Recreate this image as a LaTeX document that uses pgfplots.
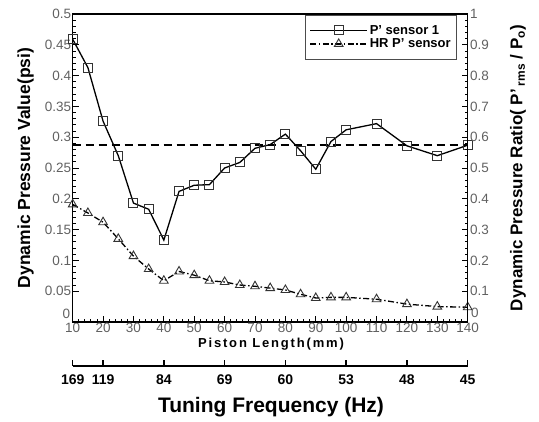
\documentclass[border=0pt]{standalone}
\usepackage{pgfplots}
\pgfplotsset{compat=1.18}
\usepackage{fontspec}
\setmainfont{Liberation Sans}
\begin{document}
\begin{tikzpicture}
\pgfplotsset{
  every axis/.append style={scale only axis, width=395pt, height=308pt, xmin=10, xmax=140,
    /pgf/number format/assume math mode=true,
    tick label style={font=\fontsize{13.5}{15}\selectfont, text=black!62},
    axis line style={line width=1.3pt}, every tick/.style={black, line width=0.9pt},
    major tick length=6pt, minor tick length=3pt},
}
\begin{axis}[
  ymin=0, ymax=0.5,
  xtick={10,20,...,140},
  ytick={0.05,0.1,0.15,0.2,0.25,0.3,0.35,0.4,0.45,0.5},
  yticklabels={0.05,0.1,0.15,0.2,0.25,0.3,0.35,0.4,0.45,0.5},
  extra y ticks={0}, extra y tick labels={0},
  extra y tick style={yticklabel style={yshift=8pt, xshift=-1pt}},
  minor x tick num=4, minor y tick num=4,
  xtick pos=bottom, ytick pos=left, tick align=inside,
  xticklabel style={yshift=2pt},
  yticklabel style={xshift=2pt},
  xlabel={\addfontfeature{LetterSpace=14}Piston Length(mm)},
  xlabel style={font=\bfseries\fontsize{13}{15}\selectfont, at={(axis description cs:0.502,-0.071)}, anchor=center},
  ylabel={Dynamic Pressure Value(psi)},
  ylabel style={font=\bfseries\fontsize{17.5}{19}\selectfont, at={(axis description cs:-0.119,0.5)}, anchor=center},
  legend style={at={(rel axis cs:0.973,0.997)}, anchor=north east, draw=black!70, line width=0.6pt,
    font=\bfseries\fontsize{13}{15}\selectfont, inner xsep=4pt, inner ysep=8pt, row sep=-1pt},
  legend cell align=left,
  legend image code/.code={\draw[mark repeat=2,mark phase=2] plot coordinates {(0cm,0cm)(1.0cm,0cm)(2.0cm,0cm)};},
]
\addplot[black, line width=1.5pt, dash pattern=on 8pt off 5pt, forget plot] coordinates {(10,0.287)(140,0.287)};
\addplot[black, line width=1.3pt, mark=square, mark size=4.5pt, mark options={solid, fill=white, draw=black!80, line width=1pt}] coordinates {
(10,0.459)(15,0.413)(20,0.326)(25,0.270)(30,0.193)(35,0.183)(40,0.133)(45,0.212)(50,0.222)(55,0.223)(60,0.250)(65,0.259)(70,0.282)(75,0.288)(80,0.305)(85,0.278)(90,0.248)(95,0.293)(100,0.312)(110,0.322)(120,0.286)(130,0.270)(140,0.287)};
\addlegendentry{P' sensor 1}
\addplot[black, line width=1.3pt, dash pattern=on 6pt off 2.5pt on 1.5pt off 2.5pt, mark=triangle, mark size=5pt, mark options={solid, fill=white, draw=black!80, line width=0.9pt}] coordinates {
(10,0.191)(15,0.177)(20,0.162)(25,0.135)(30,0.107)(35,0.086)(40,0.067)(45,0.082)(50,0.076)(55,0.067)(60,0.065)(65,0.060)(70,0.058)(75,0.055)(80,0.052)(85,0.045)(90,0.039)(95,0.040)(100,0.040)(110,0.037)(120,0.029)(130,0.025)(140,0.024)};
\addlegendentry{HR P' sensor}
\end{axis}
\begin{axis}[
  ymin=0, ymax=1,
  axis y line*=right, hide x axis, axis line style={-, line width=1.3pt},
  ytick={0.1,0.2,...,1},
  yticklabels={0.1,0.2,0.3,0.4,0.5,0.6,0.7,0.8,0.9,1},
  extra y ticks={0}, extra y tick labels={0},
  extra y tick style={yticklabel style={yshift=9pt, xshift=1pt}},
  minor y tick num=4, tick align=inside,
  yticklabel style={xshift=-1pt},
  ylabel={Dynamic Pressure Ratio( P'\,\textsubscript{rms} / P\textsubscript{o})},
  ylabel style={font=\bfseries\fontsize{17}{19}\selectfont, at={(axis description cs:1.127,0.5)}, anchor=center, rotate=0},
]
\end{axis}
\begin{axis}[
  at={(0pt,-44pt)}, anchor=south west, height=10pt,
  ymin=0, ymax=1,
  axis y line=none, axis x line*=bottom, axis line style={-, line width=1.8pt},
  xtick={10,20,40,60,80,100,120,140},
  xticklabels={169,119,84,69,60,53,48,45},
  minor x tick num=0, tick align=inside,
  every tick/.style={black, line width=1.5pt},
  xticklabel style={font=\bfseries\fontsize{14}{16}\selectfont, text=black, yshift=-5pt},
  xlabel={Tuning Frequency (Hz)},
  xlabel style={font=\bfseries\fontsize{21}{23}\selectfont, at={(axis description cs:0.502,-4.1)}, anchor=center},
]
\end{axis}
\pgfresetboundingbox
\path (-72.7pt,-100pt) rectangle (466.3pt,322pt);
\end{tikzpicture}
\end{document}
